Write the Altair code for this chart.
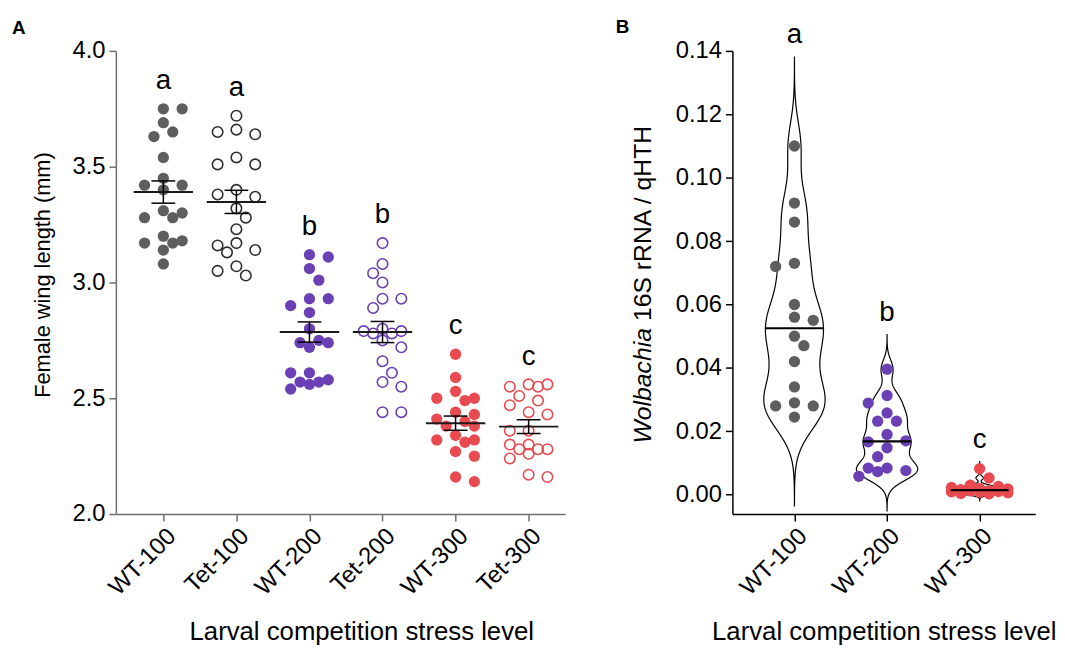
import altair as alt
import numpy as np
import pandas as pd

FONT = "Liberation Sans"

# ---------------- data ----------------
A_GROUPS = ["WT-100", "Tet-100", "WT-200", "Tet-200", "WT-300", "Tet-300"]
A_WT100 = [3.75, 3.75, 3.69, 3.65, 3.63, 3.54, 3.45, 3.42, 3.42, 3.40,
           3.31, 3.30, 3.28, 3.28, 3.20, 3.18, 3.17, 3.17, 3.14, 3.08]
A_TET100 = [3.72, 3.66, 3.65, 3.64, 3.54, 3.51, 3.51, 3.40, 3.38, 3.37,
            3.32, 3.28, 3.23, 3.17, 3.16, 3.14, 3.13, 3.07, 3.05, 3.03]
A_WT200 = [3.12, 3.11, 3.06, 3.01, 2.93, 2.93, 2.90, 2.87, 2.80, 2.75,
           2.74, 2.74, 2.72, 2.61, 2.61, 2.58, 2.57, 2.57, 2.56, 2.54]
A_TET200 = [3.17, 3.08, 3.04, 3.00, 2.93, 2.93, 2.89, 2.80, 2.79, 2.79,
            2.78, 2.78, 2.75, 2.72, 2.66, 2.61, 2.57, 2.55, 2.44, 2.44]
A_WT300 = [2.69, 2.59, 2.53, 2.50, 2.50, 2.49, 2.44, 2.43, 2.41, 2.40,
           2.38, 2.38, 2.34, 2.32, 2.32, 2.31, 2.27, 2.25, 2.16, 2.14]
A_TET300 = [2.56, 2.56, 2.55, 2.55, 2.51, 2.49, 2.47, 2.44, 2.43, 2.36,
            2.36, 2.30, 2.30, 2.28, 2.28, 2.28, 2.26, 2.24, 2.17, 2.16]
A_VALUES = [A_WT100, A_TET100, A_WT200, A_TET200, A_WT300, A_TET300]
A_LETTERS = ["a", "a", "b", "b", "c", "c"]

B_GROUPS = ["WT-100", "WT-200", "WT-300"]
B_WT100 = [0.110, 0.092, 0.086, 0.073, 0.072, 0.060, 0.056, 0.055,
           0.050, 0.047, 0.042, 0.034, 0.029, 0.028, 0.028, 0.0245]
B_WT200 = [0.0396, 0.0313, 0.0289, 0.0258, 0.0232, 0.0232, 0.0190, 0.0170,
           0.0167, 0.0148, 0.0120, 0.0084, 0.0084, 0.0076, 0.0073, 0.0058]
B_WT300 = [0.0082, 0.0053, 0.0030, 0.0026, 0.0023, 0.0020, 0.0018, 0.0016,
           0.0013, 0.0012, 0.0010, 0.0009, 0.0008, 0.0006, 0.0004, 0.0003]
B_VALUES = [B_WT100, B_WT200, B_WT300]
B_LETTERS = ["a", "b", "c"]

# ---------------- styles / layout ----------------
GRAY_PT = "#5e5e5e"
OPEN_DARK = "#2e2e2e"
PURPLE = "#6a40b4"
RED = "#e84a50"
A_COLORS = [GRAY_PT, OPEN_DARK, PURPLE, PURPLE, RED, RED]
B_COLORS = [GRAY_PT, PURPLE, RED]
AXIS_GRAY = "#6e6e6e"

WA, HA = 454, 468
XA_DOM = [-0.65, 5.5]
YA_DOM = [2.0, 4.0]
WB, HB = 306, 468
XB_DOM = [-0.67, 2.6]
YB_DOM = [-0.0061, 0.14]

PXA_X = WA / (XA_DOM[1] - XA_DOM[0])
PXA_Y = HA / (YA_DOM[1] - YA_DOM[0])
PXB_X = WB / (XB_DOM[1] - XB_DOM[0])
PXB_Y = HB / (YB_DOM[1] - YB_DOM[0])

LABEL_FS = 24
YTITLE_FS = 22
XTITLE_FS = 26
BTITLE_FS = 25
LETTER_FS = 28
TAG_FS = 19


def swarm(vals, ypx, d=12.5, step=9.5, maxw=28.5):
    """Greedy beeswarm: horizontal pixel offsets so dots don't overlap."""
    vals = np.asarray(vals, float)
    order = np.argsort(-vals, kind="stable")
    placed = []
    offs = np.zeros(len(vals))
    nsteps = int(maxw // step)
    for j, i in enumerate(order):
        y = vals[i] * ypx
        sgn = 1 if j % 2 else -1
        cands = [0.0]
        for k in range(1, nsteps + 1):
            cands += [sgn * k * step, -sgn * k * step]
        best, bestc, bestmin = None, 0.0, -1.0
        for c in cands:
            md = min([np.hypot(c - px, y - py) for px, py in placed], default=1e9)
            if md >= d:
                best = c
                break
            if md > bestmin:
                bestmin, bestc = md, c
        if best is None:
            best = bestc
        placed.append((best, y))
        offs[i] = best
    return offs


rowsA = []
for gi, (g, vals) in enumerate(zip(A_GROUPS, A_VALUES)):
    offs = swarm(vals, PXA_Y, maxw=20)
    for v, o in zip(vals, offs):
        rowsA.append(dict(group=g, idx=gi, value=v, xpos=gi + o / PXA_X,
                          filled=g.startswith("WT"), letter=A_LETTERS[gi]))
dfA = pd.DataFrame(rowsA)

rowsB = []
for gi, (g, vals) in enumerate(zip(B_GROUPS, B_VALUES)):
    offs = swarm(vals, PXB_Y)
    for v, o in zip(vals, offs):
        rowsB.append(dict(bgroup=g, idx=gi, value=v, xpos=gi + o / PXB_X,
                          letter=B_LETTERS[gi]))
dfB = pd.DataFrame(rowsB)


def label_expr(names):
    return "[" + ",".join("'%s'" % n for n in names) + "][round(datum.value)]"


AXA_X = alt.Axis(values=list(range(len(A_GROUPS))), labelExpr=label_expr(A_GROUPS),
                 labelAngle=-45, labelAlign="right", labelBaseline="top",
                 labelFontSize=LABEL_FS, labelFlush=False, labelOverlap=False,
                 labelPadding=3, tickSize=7, tickColor=AXIS_GRAY, domainColor=AXIS_GRAY,
                 tickWidth=1.5, domainWidth=1.5, grid=False,
                 title="Larval competition stress level", titleFontSize=XTITLE_FS,
                 titleFontWeight="normal", titleX=248, titleY=127,
                 titleBaseline="alphabetic")
AXA_Y = alt.Axis(values=[2.0, 2.5, 3.0, 3.5, 4.0], format=".1f", labelFontSize=LABEL_FS,
                 labelFlush=False, labelPadding=4, tickSize=7, tickColor=AXIS_GRAY,
                 domainColor=AXIS_GRAY, tickWidth=1.5, domainWidth=1.5, grid=False,
                 title="Female wing length (mm)", titleFontSize=YTITLE_FS,
                 titleFontWeight="normal", titleX=-67, titleY=226,
                 titleAngle=270, titleAlign="center", titleBaseline="alphabetic")
AXB_X = alt.Axis(values=list(range(len(B_GROUPS))), labelExpr=label_expr(B_GROUPS),
                 labelAngle=-45, labelAlign="right", labelBaseline="top",
                 labelFontSize=LABEL_FS, labelFlush=False, labelOverlap=False,
                 labelPadding=3, tickSize=7, tickColor="black", domainColor="black",
                 tickWidth=1.5, domainWidth=1.5, grid=False,
                 title="Larval competition stress level", titleFontSize=XTITLE_FS,
                 titleFontWeight="normal", titleY=127, titleBaseline="alphabetic")
AXB_Y = alt.Axis(values=[0, 0.02, 0.04, 0.06, 0.08, 0.10, 0.12, 0.14], format=".2f",
                 labelFontSize=LABEL_FS, labelFlush=False, labelPadding=4, tickSize=7,
                 tickColor="black", domainColor="black", tickWidth=1.5, domainWidth=1.5,
                 grid=False, title=None)

SXA = alt.Scale(domain=XA_DOM, nice=False, zero=False)
SYA = alt.Scale(domain=YA_DOM, nice=False, zero=False)
SXB = alt.Scale(domain=XB_DOM, nice=False, zero=False)
SYB = alt.Scale(domain=YB_DOM, nice=False, zero=False)


def XA(f):
    return alt.X(f, type="quantitative", scale=SXA, axis=AXA_X)


def YA(f):
    return alt.Y(f, type="quantitative", scale=SYA, axis=AXA_Y)


def XB(f):
    return alt.X(f, type="quantitative", scale=SXB, axis=AXB_X)


def YB(f):
    return alt.Y(f, type="quantitative", scale=SYB, axis=AXB_Y)


# ---------------- Panel A ----------------
colA = alt.Color("group:N", scale=alt.Scale(domain=A_GROUPS, range=A_COLORS), legend=None)
baseA = alt.Chart(dfA)
pts_f = baseA.transform_filter("datum.filled").mark_circle(size=130, opacity=1).encode(
    x=XA("xpos"), y=YA("value"), color=colA)
pts_o = baseA.transform_filter("!datum.filled").mark_point(
    shape="circle", filled=False, size=112, strokeWidth=1.6, opacity=1).encode(
    x=XA("xpos"), y=YA("value"), color=colA)

MEAN_HW = 30 / PXA_X
CAP_HW = 12 / PXA_X
summ = baseA.transform_aggregate(
    m="mean(value)", se="stderr(value)", groupby=["idx"]
).transform_calculate(
    lo="datum.m - datum.se", hi="datum.m + datum.se",
    ml="datum.idx - %f" % MEAN_HW, mr="datum.idx + %f" % MEAN_HW,
    cl="datum.idx - %f" % CAP_HW, cr="datum.idx + %f" % CAP_HW)
mean_rule = summ.mark_rule(color="#1a1a1a", strokeWidth=2).encode(
    x=XA("ml"), x2="mr:Q", y=YA("m"))
err_rule = summ.mark_rule(color="black", strokeWidth=1.5).encode(
    x=XA("idx"), y=YA("lo"), y2="hi:Q")
cap_lo = summ.mark_rule(color="black", strokeWidth=1.5).encode(
    x=XA("cl"), x2="cr:Q", y=YA("lo"))
cap_hi = summ.mark_rule(color="black", strokeWidth=1.5).encode(
    x=XA("cl"), x2="cr:Q", y=YA("hi"))

letters_A = baseA.transform_aggregate(
    mx="max(value)", groupby=["idx", "letter"]
).transform_calculate(ly="datum.mx + %f" % (20 / PXA_Y)).mark_text(
    fontSize=LETTER_FS, baseline="alphabetic", color="black").encode(
    x=XA("idx"), y=YA("ly"), text="letter:N")

tagA = alt.Chart(pd.DataFrame({"t": ["A"]})).mark_text(
    fontSize=TAG_FS, fontWeight="bold", align="left", baseline="alphabetic", color="black"
).encode(text="t:N", x=alt.value(-105), y=alt.value(-17))

panelA = alt.layer(pts_f, pts_o, mean_rule, err_rule, cap_lo, cap_hi, letters_A, tagA
                   ).properties(width=WA, height=HA)

# ---------------- Panel B ----------------
PAD_K = 1.1     # violin tails extend this many SDs beyond the data
BW_K = 0.3      # KDE bandwidth as a fraction of the SD
VIOLIN_HW = 31 / PXB_X
baseB = alt.Chart(dfB)

violins = []
medians = []
for gi, (g, vals) in enumerate(zip(B_GROUPS, B_VALUES)):
    sd = float(np.std(vals, ddof=1))
    lo = float(np.min(vals)) - PAD_K * sd
    hi = float(np.max(vals)) + PAD_K * sd
    dens = baseB.transform_filter(alt.datum.bgroup == g).transform_joinaggregate(
        med="median(value)", groupby=["bgroup"]
    ).transform_density(
        "value", as_=["v", "density"], groupby=["bgroup", "idx", "med"],
        bandwidth=BW_K * sd, extent=[lo, hi], steps=400
    ).transform_joinaggregate(maxd="max(density)").transform_calculate(
        xl="datum.idx - datum.density / datum.maxd * %f" % VIOLIN_HW,
        xr="datum.idx + datum.density / datum.maxd * %f" % VIOLIN_HW,
        dist="abs(datum.v - datum.med)")
    violins.append(dens.mark_area(orient="horizontal", fill="white", fillOpacity=0,
                                  stroke="black", strokeWidth=1.2).encode(
        y=YB("v"), x=XB("xl"), x2="xr:Q"))
    medians.append(dens.transform_joinaggregate(mind="min(dist)").transform_filter(
        "datum.dist == datum.mind").mark_rule(color="black", strokeWidth=2.2).encode(
        x=XB("xl"), x2="xr:Q", y=YB("med")))

colB = alt.Color("bgroup:N", scale=alt.Scale(domain=B_GROUPS, range=B_COLORS), legend=None)
pts_B = baseB.mark_circle(size=130, opacity=1).encode(
    x=XB("xpos"), y=YB("value"), color=colB)

letters_B = baseB.transform_aggregate(
    mx="max(value)", sd="stdev(value)", groupby=["idx", "letter"]
).transform_calculate(ly="datum.mx + %f * datum.sd + %f" % (PAD_K, 14 / PXB_Y)).mark_text(
    fontSize=LETTER_FS, baseline="alphabetic", color="black").encode(
    x=XB("idx"), y=YB("ly"), text="letter:N")

# y title of panel B: italic genus name followed by the rest, read bottom-to-top
YT_SPLIT = 280
ytitle_it = alt.Chart(pd.DataFrame({"t": ["Wolbachia"]})).mark_text(
    angle=270, align="right", baseline="alphabetic", fontSize=BTITLE_FS,
    fontStyle="italic", color="black").encode(
    text="t:N", x=alt.value(-82), y=alt.value(YT_SPLIT))
ytitle_rest = alt.Chart(pd.DataFrame({"t": ["16S rRNA / qHTH"]})).mark_text(
    angle=270, align="left", baseline="alphabetic", fontSize=BTITLE_FS,
    color="black").encode(
    text="t:N", x=alt.value(-82), y=alt.value(YT_SPLIT - 7))

tagB = alt.Chart(pd.DataFrame({"t": ["B"]})).mark_text(
    fontSize=TAG_FS, fontWeight="bold", align="left", baseline="alphabetic", color="black"
).encode(text="t:N", x=alt.value(-118), y=alt.value(-18))

panelB = alt.layer(*violins, pts_B, *medians, letters_B, ytitle_it, ytitle_rest, tagB
                   ).properties(width=WB, height=HB)

chart = alt.hconcat(panelA, panelB, spacing=51).resolve_scale(
    color="independent"
).configure_view(stroke=None).configure_axis(
    labelFont=FONT, titleFont=FONT, labelColor="black", titleColor="black"
).configure_text(font=FONT).properties(
    padding={"left": 4, "top": 7, "right": 0, "bottom": 0}
)

chart.save("out.html", embed_options={"renderer": "svg", "actions": False})
